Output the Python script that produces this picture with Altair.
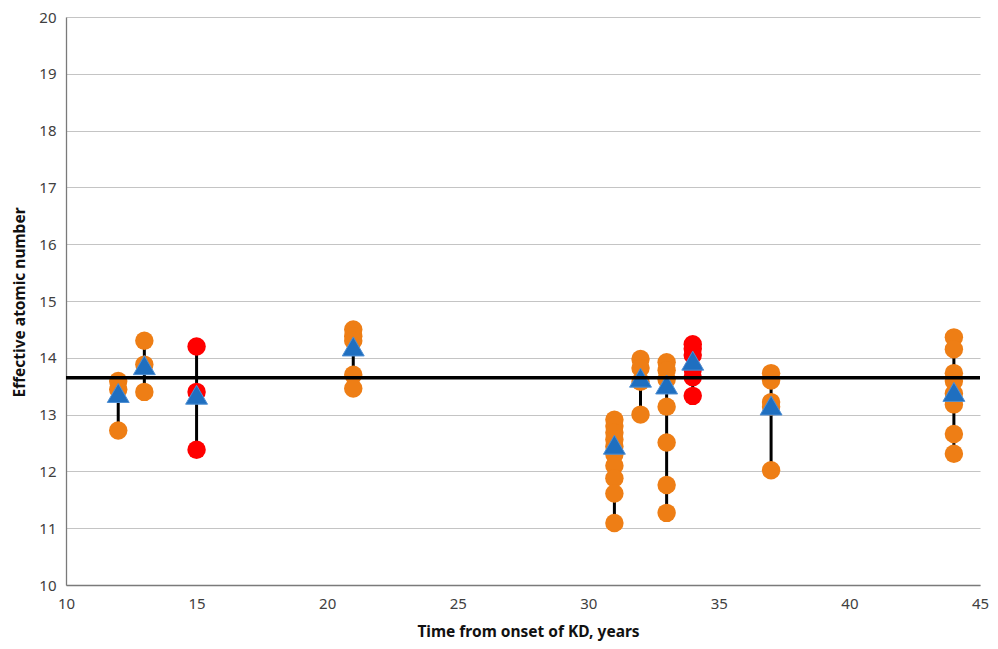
import altair as alt
import pandas as pd

# ---- data ----
years_orange = [12, 12, 12,
                13, 13, 13,
                21, 21, 21, 21, 21,
                31, 31, 31, 31, 31, 31, 31, 31, 31, 31,
                32, 32, 32, 32,
                33, 33, 33, 33, 33, 33, 33,
                37, 37, 37, 37, 37,
                44, 44, 44, 44, 44, 44, 44, 44]
values_orange = [13.59, 13.44, 12.72,
                 14.30, 13.88, 13.40,
                 14.50, 14.38, 14.30, 13.70, 13.46,
                 12.91, 12.80, 12.68, 12.56, 12.44, 12.30, 12.10, 11.88, 11.61, 11.09,
                 13.98, 13.82, 13.58, 13.00,
                 13.92, 13.78, 13.62, 13.14, 12.51, 11.76, 11.27,
                 13.73, 13.60, 13.22, 13.14, 12.02,
                 14.36, 14.15, 13.73, 13.59, 13.37, 13.18, 12.66, 12.31]
years_red = [15, 15, 15,
             34, 34, 34, 34, 34, 34]
values_red = [14.20, 13.40, 12.38,
              14.24, 14.16, 14.05, 13.80, 13.66, 13.33]
tri_years = [12, 13, 15, 21, 31, 32, 33, 34, 37, 44]
tri_values = [13.38, 13.87, 13.35, 14.20, 12.47, 13.65, 13.53, 13.95, 13.16, 13.40]
reference_value = [13.65]

x_ticks = [10, 15, 20, 25, 30, 35, 40, 45]
y_ticks = [10, 11, 12, 13, 14, 15, 16, 17, 18, 19, 20]

pts = pd.DataFrame({
    "year": years_orange + years_red,
    "value": values_orange + values_red,
    "group": ["orange"] * len(years_orange) + ["red"] * len(years_red),
})
tri = pd.DataFrame({"year": tri_years, "value": tri_values})
ref = pd.DataFrame({"value": reference_value})

FONT = "Noto Sans"

xenc = alt.X("year:Q",
             scale=alt.Scale(domain=[10, 45], nice=False, zero=False),
             axis=alt.Axis(values=x_ticks, grid=False, ticks=False, format="d",
                           labelFlush=False,
                           title="Time from onset of KD, years",
                           labelPadding=11, titleX=462, titleY=46,
                           titleBaseline="middle"))
yenc_scale = alt.Scale(domain=[10, 20], nice=False, zero=False)

rules = alt.Chart(pts).mark_rule(color="black", strokeWidth=3).encode(
    x=xenc,
    y=alt.Y("min(value):Q", scale=yenc_scale,
            axis=alt.Axis(values=y_ticks, grid=True, ticks=False, format="d",
                          labelFlush=False,
                          title="Effective atomic number",
                          labelPadding=10, titleX=-47, titleY=285,
                          titleBaseline="middle")),
    y2="max(value):Q",
)

circles = alt.Chart(pts).mark_circle(size=340, opacity=1).encode(
    x="year:Q",
    y=alt.Y("value:Q", scale=yenc_scale),
    color=alt.Color("group:N",
                    scale=alt.Scale(domain=["orange", "red"],
                                    range=["#EE7E15", "#FF0000"]),
                    legend=None),
)

triangles = alt.Chart(tri).mark_point(
    shape="triangle-up", filled=True, size=480, fill="#1F6FC0",
    stroke="#4E8FD4", strokeWidth=1, opacity=1
).encode(
    x="year:Q",
    y=alt.Y("value:Q", scale=yenc_scale),
)

hline = alt.Chart(ref).mark_rule(color="black", strokeWidth=3.5).encode(
    y=alt.Y("value:Q", scale=yenc_scale),
)

chart = alt.layer(rules, circles, triangles, hline).properties(
    width=914, height=568,
    autosize=alt.AutoSizeParams(type="none"),
    padding={"left": 58, "top": 9, "right": 10, "bottom": 56},
).configure_view(stroke=None).configure_axis(
    domainColor="#7A7A7A", domainWidth=1.3,
    gridColor="#C4C4C4", gridWidth=1.2,
    labelFont=FONT, labelFontSize=15, labelColor="#404040",
    titleFont=FONT, titleFontSize=15.5, titleFontWeight="bold", titleColor="#111111",
)

chart.save("out.html", embed_options={"renderer": "svg", "actions": False})
